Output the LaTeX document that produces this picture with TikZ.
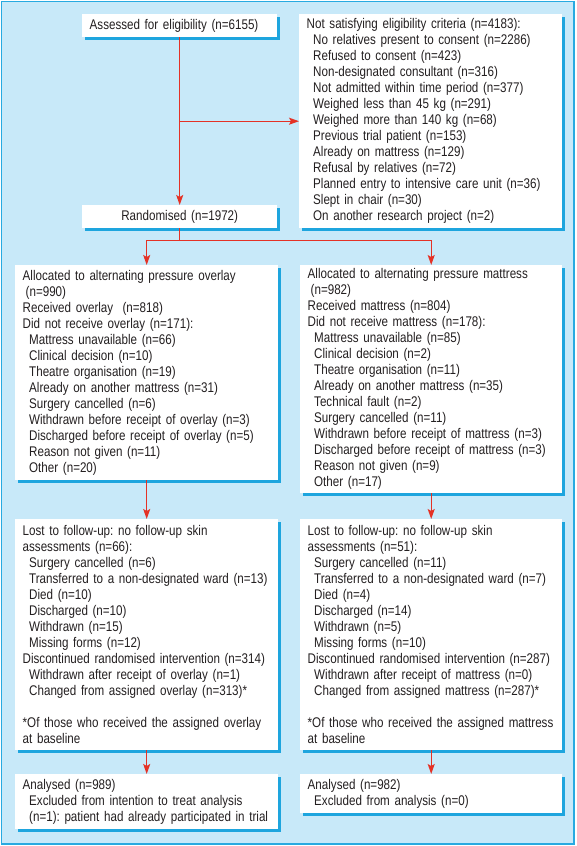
\documentclass[tikz,border=0pt]{standalone}
\usepackage{fontspec}
\setmainfont{Liberation Sans}[FakeStretch=0.83]
\usetikzlibrary{arrows.meta,shadows}
\definecolor{bgblue}{RGB}{200,233,249}
\definecolor{edgeblue}{RGB}{40,170,225}
\definecolor{shblue}{RGB}{30,165,222}
\definecolor{arred}{RGB}{228,50,38}
\definecolor{txt}{RGB}{35,31,32}
\newcommand\myind{\hspace*{6.5pt}}
\frenchspacing
\begin{document}
\begin{tikzpicture}[x=1pt,y=-1pt,
  box/.style={anchor=north west, fill=white, inner xsep=7.5pt, inner ysep=0pt,
    align=left, font=\fontsize{14}{16}\selectfont\frenchspacing, text=txt,
    drop shadow={shadow xshift=2.5pt, shadow yshift=-2.5pt, fill=shblue, opacity=1}},
  arr/.style={draw=arred, line width=1.3pt, -{Stealth[length=10pt,width=7pt,inset=2pt]}},
  ln/.style={draw=arred, line width=1.3pt}]
\useasboundingbox (0,0) rectangle (576,846);
\draw[edgeblue, fill=bgblue, line width=1.2pt] (1.5,1.5) rectangle (574,844);

\node[box, text width=180pt, minimum height=23pt] (a1) at (82,14)
  {Assessed for eligibility (n=6155)};
\node[box, text width=248pt, minimum height=214pt] (a2) at (299,14)
  {Not satisfying eligibility criteria (n=4183):\\
   \myind No relatives present to consent (n=2286)\\
   \myind Refused to consent (n=423)\\
   \myind Non-designated consultant (n=316)\\
   \myind Not admitted within time period (n=377)\\
   \myind Weighed less than 45 kg (n=291)\\
   \myind Weighed more than 140 kg (n=68)\\
   \myind Previous trial patient (n=153)\\
   \myind Already on mattress (n=129)\\
   \myind Refusal by relatives (n=72)\\
   \myind Planned entry to intensive care unit (n=36)\\
   \myind Slept in chair (n=30)\\
   \myind On another research project (n=2)};
\node[box, align=center, text width=180pt, minimum height=23pt] (r) at (82,205)
  {Randomised (n=1972)};

\node[box, text width=248pt, minimum height=215pt] (l3) at (15,265)
  {Allocated to alternating pressure overlay\\
   \hspace*{3pt}(n=990)\\
   Received overlay\ \ (n=818)\\
   Did not receive overlay (n=171):\\
   \myind Mattress unavailable (n=66)\\
   \myind Clinical decision (n=10)\\
   \myind Theatre organisation (n=19)\\
   \myind Already on another mattress (n=31)\\
   \myind Surgery cancelled (n=6)\\
   \myind Withdrawn before receipt of overlay (n=3)\\
   \myind Discharged before receipt of overlay (n=5)\\
   \myind Reason not given (n=11)\\
   \myind Other (n=20)};
\node[box, text width=247pt, minimum height=228pt] (r3) at (300,265)
  {Allocated to alternating pressure mattress\\
   \hspace*{3pt}(n=982)\\
   Received mattress (n=804)\\
   Did not receive mattress (n=178):\\
   \myind Mattress unavailable (n=85)\\
   \myind Clinical decision (n=2)\\
   \myind Theatre organisation (n=11)\\
   \myind Already on another mattress (n=35)\\
   \myind Technical fault (n=2)\\
   \myind Surgery cancelled (n=11)\\
   \myind Withdrawn before receipt of mattress (n=3)\\
   \myind Discharged before receipt of mattress (n=3)\\
   \myind Reason not given (n=9)\\
   \myind Other (n=17)};

\node[box, text width=248pt, minimum height=231pt] (l4) at (15,519)
  {Lost to follow-up: no follow-up skin\\
   assessments (n=66):\\
   \myind Surgery cancelled (n=6)\\
   \myind Transferred to a non-designated ward (n=13)\\
   \myind Died (n=10)\\
   \myind Discharged (n=10)\\
   \myind Withdrawn (n=15)\\
   \myind Missing forms (n=12)\\
   Discontinued randomised intervention (n=314)\\
   \myind Withdrawn after receipt of overlay (n=1)\\
   \myind Changed from assigned overlay (n=313)*\\[16pt]
   *Of those who received the assigned overlay\\
   at baseline};
\node[box, text width=247pt, minimum height=231pt] (r4) at (300,519)
  {Lost to follow-up: no follow-up skin\\
   assessments (n=51):\\
   \myind Surgery cancelled (n=11)\\
   \myind Transferred to a non-designated ward (n=7)\\
   \myind Died (n=4)\\
   \myind Discharged (n=14)\\
   \myind Withdrawn (n=5)\\
   \myind Missing forms (n=10)\\
   Discontinued randomised intervention (n=287)\\
   \myind Withdrawn after receipt of mattress (n=0)\\
   \myind Changed from assigned mattress (n=287)*\\[16pt]
   *Of those who received the assigned mattress\\
   at baseline};

\node[box, text width=248pt, minimum height=55pt] (l5) at (15,774)
  {Analysed (n=989)\\
   \myind Excluded from intention to treat analysis\\
   \myind (n=1): patient had already participated in trial};
\node[box, text width=247pt, minimum height=39pt] (r5) at (300,774)
  {Analysed (n=982)\\
   \myind Excluded from analysis (n=0)};

\draw[arr] (a1.south) -- (r.north);
\draw[arr] (a1.south |- a2.west) -- (a2.west);
\path (r.south) ++(0,12) coordinate (split);
\draw[ln] (r.south) -- (split);
\draw[arr] (split) -| (l3.north);
\draw[arr] (split) -| (r3.north);
\draw[arr] (l3.south) -- (l4.north);
\draw[arr] (r3.south) -- (r4.north);
\draw[arr] (l4.south) -- (l5.north);
\draw[arr] (r4.south) -- (r5.north);
\end{tikzpicture}
\end{document}
